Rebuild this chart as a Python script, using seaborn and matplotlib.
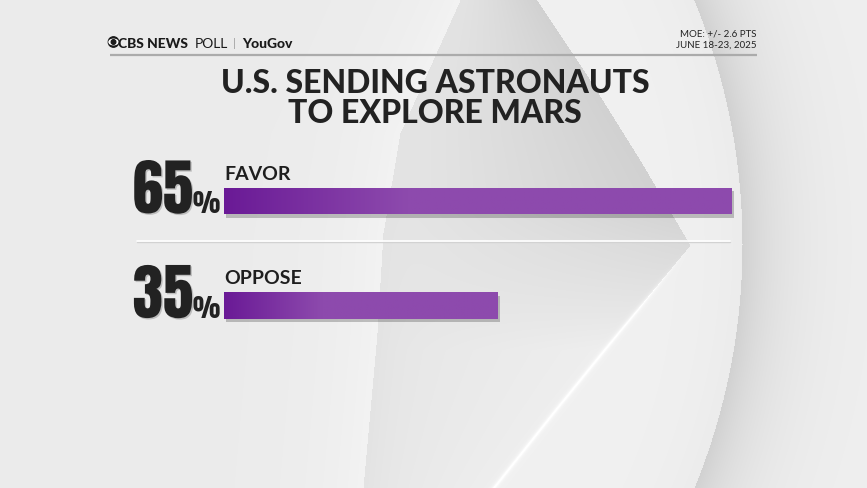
import numpy as np
import pandas as pd
import matplotlib
matplotlib.use("Agg")
import matplotlib.pyplot as plt
import matplotlib.patheffects as pe
from matplotlib.colors import LinearSegmentedColormap
from matplotlib.patches import Circle, Ellipse
import seaborn as sns

# data
answers = ["FAVOR", "OPPOSE"]
shares = [65, 35]

title_lines = ["U.S. SENDING ASTRONAUTS", "TO EXPLORE MARS"]
moe_text = "MOE: +/- 2.6 PTS"
date_text = "JUNE 18-23, 2025"

W, H = 867, 488
SANS = ["Lato", "DejaVu Sans"]
DIGITS = ["Anton", "Oswald", "Roboto Condensed", "Liberation Sans Narrow", "DejaVu Sans"]

sns.set_theme(style="white")
plt.rcParams["font.family"] = SANS

fig = plt.figure(figsize=(W / 100, H / 100), dpi=100)

# background with the big grey swooshes
ax_bg = fig.add_axes([0, 0, 1, 1])
yy, xx = np.mgrid[0:H, 0:W].astype(float)
xl = np.interp(yy, [0, 133, 233, 333, 488], [460, 400, 383, 377, 363])
xt = np.interp(yy, [0, 80, 160, 245, 330, 410, 488], [537, 590, 640, 690, 620, 555, 493])
d = np.hypot(xx - 100, yy - 244)
R = 642

bg = np.full((H, W), 0.925)
left = xx < xl
band = (xx >= xl) & (xx < xt)
inner = (xx >= xt) & (d <= R)
outer = d > R

bg[left] = (0.922 + 0.03 * np.exp(-(xl - xx) / 60))[left]
frac = np.clip((xx - xl) / np.maximum(xt - xl, 1), 0, 1)
s = np.clip((yy - 200) / 150, 0, 1)
vb = 0.905 + frac * (-0.085 * (1 - s) + 0.03 * s) - 0.015 * np.exp(-(xx - xl) / 20)
bg[band] = vb[band]
vi = 0.945 - 0.02 * np.exp(-(R - d) / 40)
bg[inner] = vi[inner]
vo = 0.94 - 0.12 * np.exp(-(d - R) / 45)
bg[outer] = vo[outer]
glow = np.exp(-np.abs(xx - xt) / 2.0) * np.clip((yy - 250) / 60, 0, 1)
bg = np.clip(bg + 0.09 * glow, 0, 1)

ax_bg.imshow(np.dstack([bg] * 3), extent=[0, W, H, 0], interpolation="bilinear")
ax_bg.set_xlim(0, W)
ax_bg.set_ylim(H, 0)
ax_bg.axis("off")

# header
ax_bg.add_patch(Circle((113.5, 42), 5.2, color="#1a1a1a"))
ax_bg.add_patch(Ellipse((113.5, 42), 9, 5.5, color="white"))
ax_bg.add_patch(Circle((113.5, 42), 2.3, color="#1a1a1a"))
ax_bg.text(118, 47.5, "CBS NEWS", fontsize=10, fontweight=900, color="#1a1a1a", va="baseline")
ax_bg.text(195, 47.5, "POLL", fontsize=10, fontweight=400, color="#1a1a1a", va="baseline")
ax_bg.text(233, 47, "|", fontsize=8, color="#9a9a9a", va="baseline")
ax_bg.text(242, 47.5, "YouGov", fontsize=10, fontweight=900, color="#1a1a1a", va="baseline")
ax_bg.text(757, 36.5, moe_text, fontsize=7, color="#222222", ha="right", va="baseline")
ax_bg.text(757, 47.5, date_text, fontsize=7, color="#222222", ha="right", va="baseline")
ax_bg.plot([110, 757], [54.5, 54.5], color="#ababab", lw=1.6, solid_capstyle="butt")

ax_bg.text(435, 93, title_lines[0], fontsize=23, fontweight=900, color="#222222",
           ha="center", va="baseline")
ax_bg.text(435, 123, title_lines[1], fontsize=23, fontweight=900, color="#222222",
           ha="center", va="baseline")

# divider between the two answers
ax_bg.plot([137, 730], [242.3, 242.3], color="#d2d2d2", lw=1.0)
ax_bg.plot([137, 730], [241, 241], color="white", lw=1.2)

# bars
px_per_unit = 104.5
ax = fig.add_axes([224 / W, (H - 357.75) / H, 781.5 / W, 2 * px_per_unit / H])
df = pd.DataFrame({"answer": answers, "share": shares})
sns.barplot(data=df, x="share", y="answer", orient="h", width=0.25,
            color="#8d4aad", saturation=1, linewidth=0, ax=ax)
ax.set_xlim(0, 100)
ax.set_ylim(1.5, -0.5)
ax.axis("off")
ax.patch.set_alpha(0)

cmap = LinearSegmentedColormap.from_list("bar", ["#6a1a96", "#8d4aad"])
ramp = np.clip(np.linspace(0, 1, 400) / 0.36, 0, 1)[None, :]
for p in ax.patches:
    x0, y0, w, h = p.get_x(), p.get_y(), p.get_width(), p.get_height()
    p.set_path_effects([pe.SimplePatchShadow(offset=(1.5, -2.5), shadow_rgbFace="#000000", alpha=0.22),
                        pe.Normal()])
    im = ax.imshow(ramp, extent=[x0, x0 + w, y0 + h, y0], aspect="auto", cmap=cmap,
                   vmin=0, vmax=1, zorder=p.get_zorder() + 0.1)
    im.set_clip_path(p)
ax.set_xlim(0, 100)
ax.set_ylim(1.5, -0.5)

for i, (lab, val) in enumerate(zip(answers, shares)):
    ax.annotate(str(val), xy=(0, i), xytext=(-31, -12), textcoords="offset pixels",
                fontsize=44, family=DIGITS, color="#222222", ha="right", va="baseline",
                path_effects=[pe.withSimplePatchShadow(offset=(1, -1), alpha=0.2)])
    ax.annotate("%", xy=(0, i), xytext=(-31, -12), textcoords="offset pixels",
                fontsize=18.5, family=DIGITS, color="#222222", ha="left", va="baseline")
    ax.annotate(lab, xy=(0, i), xytext=(0, 21), textcoords="offset pixels",
                fontsize=14, fontweight="bold", color="#1e1e1e", ha="left", va="baseline")

fig.savefig("out.png", dpi=100)
